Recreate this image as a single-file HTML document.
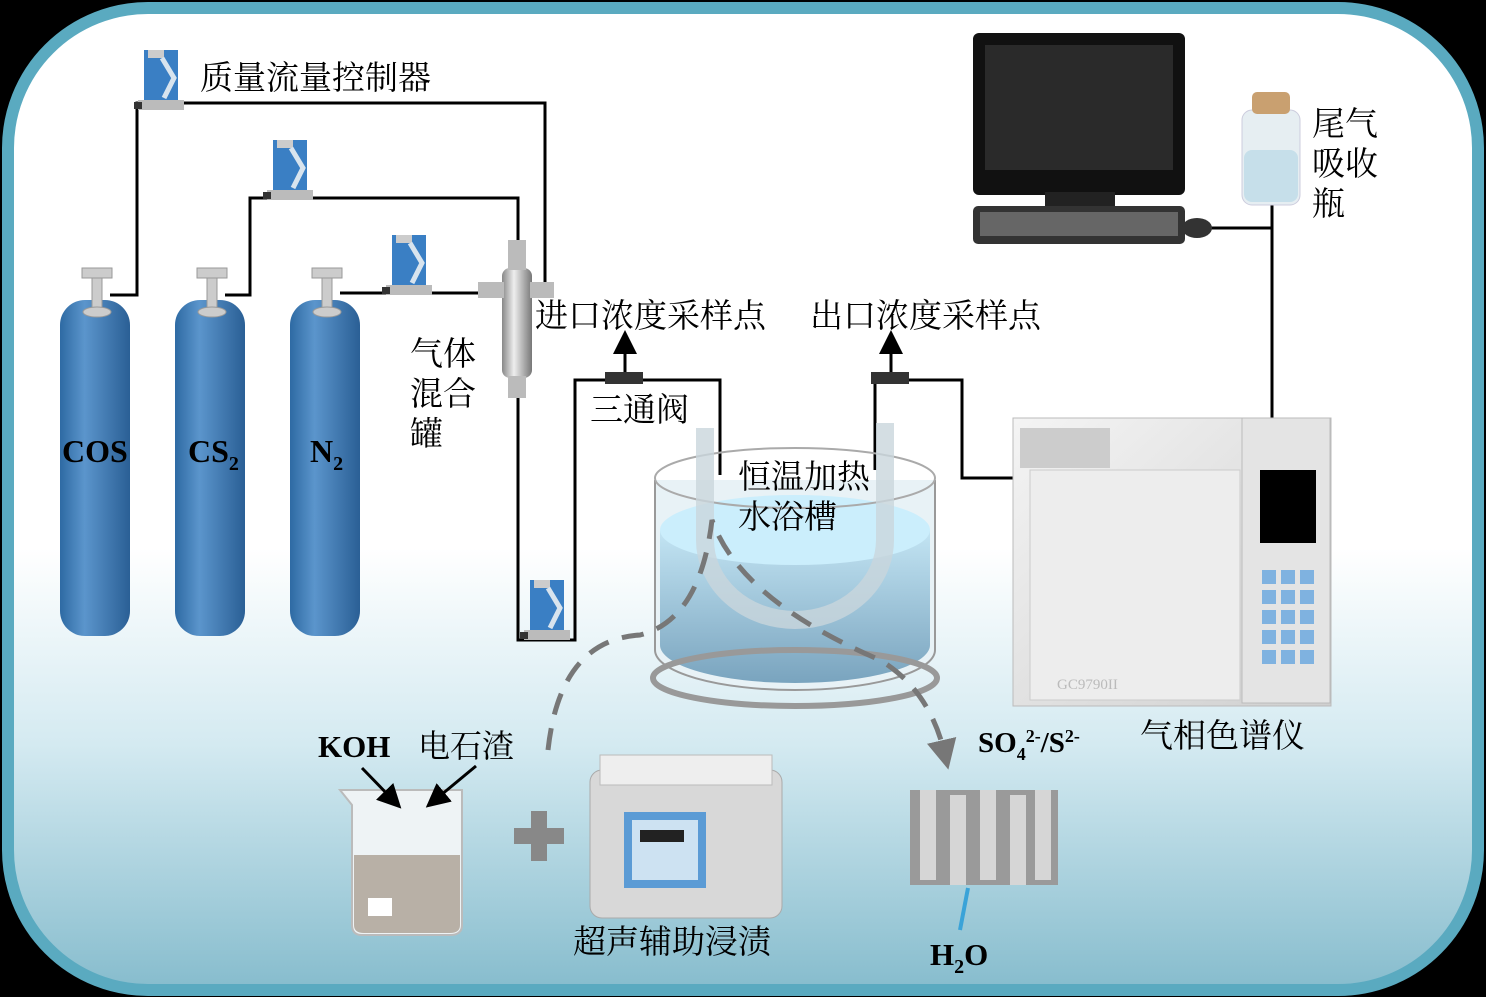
<!DOCTYPE html>
<html><head><meta charset="utf-8"><style>
html,body{margin:0;padding:0;background:#000;}
svg{display:block}
text{font-family:"Liberation Serif","Noto Serif CJK SC",serif;fill:#000}
</style></head><body>
<svg width="1486" height="997" viewBox="0 0 1486 997" xmlns="http://www.w3.org/2000/svg">
<defs>
<linearGradient id="bg" x1="0" y1="0" x2="0" y2="1">
<stop offset="0" stop-color="#fff"/><stop offset="0.55" stop-color="#fff"/><stop offset="0.75" stop-color="#d4eaf1"/><stop offset="1" stop-color="#86bccd"/></linearGradient>
<linearGradient id="cyl" x1="0" y1="0" x2="1" y2="0">
<stop offset="0" stop-color="#2e6aa3"/><stop offset="0.35" stop-color="#5b95cc"/><stop offset="1" stop-color="#2a5f95"/></linearGradient>
<linearGradient id="steel" x1="0" y1="0" x2="1" y2="0">
<stop offset="0" stop-color="#888"/><stop offset="0.4" stop-color="#eee"/><stop offset="1" stop-color="#777"/></linearGradient>
<linearGradient id="water" x1="0" y1="0" x2="0" y2="1">
<stop offset="0" stop-color="#bfe3f3"/><stop offset="1" stop-color="#6d9bb8"/></linearGradient>
<linearGradient id="gc" x1="0" y1="0" x2="1" y2="1">
<stop offset="0" stop-color="#f4f4f4"/><stop offset="1" stop-color="#cfcfcf"/></linearGradient>
<g id="mfc"><rect x="0" y="0" width="34" height="52" fill="#3a7fc4"/><rect x="4" y="0" width="16" height="8" fill="#ccc"/><path d="M18 8 L30 28 L20 48" stroke="#d8e4ee" stroke-width="5" fill="none"/><rect x="-6" y="50" width="46" height="10" fill="#bbb"/><rect x="-10" y="52" width="8" height="7" fill="#333"/></g>
<marker id="ah" markerWidth="8" markerHeight="8" refX="4" refY="4" orient="auto"><path d="M0 0 L8 4 L0 8 z" fill="#000"/></marker>
<marker id="ag" markerWidth="6" markerHeight="6" refX="3" refY="3" orient="auto"><path d="M0 0 L6 3 L0 6 z" fill="#777"/></marker>
</defs>
<rect x="8" y="8" width="1470" height="982" rx="140" fill="url(#bg)" stroke="#5aaac0" stroke-width="12"/>

<g>
<rect x="60" y="300" width="70" height="336" rx="25" fill="url(#cyl)"/>
<rect x="175" y="300" width="70" height="336" rx="25" fill="url(#cyl)"/>
<rect x="290" y="300" width="70" height="336" rx="25" fill="url(#cyl)"/>
<g fill="#ccc" stroke="#999"><rect x="82" y="268" width="30" height="10"/><rect x="92" y="278" width="10" height="34"/><ellipse cx="97" cy="312" rx="14" ry="5"/>
<rect x="197" y="268" width="30" height="10"/><rect x="207" y="278" width="10" height="34"/><ellipse cx="212" cy="312" rx="14" ry="5"/>
<rect x="312" y="268" width="30" height="10"/><rect x="322" y="278" width="10" height="34"/><ellipse cx="327" cy="312" rx="14" ry="5"/></g>
</g>
<text x="62" y="462" font-size="32" font-weight="bold">COS</text>
<text x="188" y="462" font-size="32" font-weight="bold">CS<tspan font-size="20" dy="8">2</tspan></text>
<text x="310" y="462" font-size="32" font-weight="bold">N<tspan font-size="20" dy="8">2</tspan></text>

<g stroke="#000" stroke-width="3" fill="none">
<path d="M110 295 H137 V103 H545 V285"/>
<path d="M225 295 H250 V198 H518 V245"/>
<path d="M340 293 H500"/>
<path d="M518 395 V640 H575 V380 H720 V475"/>
<path d="M875 470 V380 H962 V478 H1022"/>
<path d="M1210 228 H1272 V420"/>
<path d="M1272 200 V228"/>
</g>
<g stroke="#000" stroke-width="3"><line x1="625" y1="372" x2="625" y2="342" marker-end="url(#ah)"/><line x1="891" y1="372" x2="891" y2="342" marker-end="url(#ah)"/></g>
<rect x="605" y="372" width="38" height="12" fill="#333"/><rect x="871" y="372" width="38" height="12" fill="#333"/>

<use href="#mfc" x="144" y="50"/>
<use href="#mfc" x="273" y="140"/>
<use href="#mfc" x="392" y="235"/>
<use href="#mfc" x="530" y="580"/>

<rect x="502" y="268" width="30" height="110" rx="8" fill="url(#steel)"/>
<rect x="508" y="240" width="18" height="30" fill="#bbb"/><rect x="508" y="376" width="18" height="22" fill="#bbb"/>
<rect x="478" y="282" width="26" height="16" fill="#bbb"/><rect x="530" y="282" width="24" height="16" fill="#bbb"/>

<g font-size="33">
<text x="200" y="89">质量流量控制器</text>
<text x="535" y="327">进口浓度采样点</text>
<text x="810" y="327">出口浓度采样点</text>
<text x="410" y="365">气体</text>
<text x="410" y="405">混合</text>
<text x="410" y="445">罐</text>
<text x="590" y="421">三通阀</text>
</g>

<path d="M655 480 V650 A140 40 0 0 0 935 650 V480" fill="#e8f2f6" stroke="#999" stroke-width="2"/>
<path d="M660 530 V645 A135 38 0 0 0 930 645 V530 Z" fill="url(#water)" opacity="0.9"/>
<ellipse cx="795" cy="530" rx="135" ry="35" fill="#cbeefc"/>
<ellipse cx="795" cy="478" rx="140" ry="30" fill="none" stroke="#aaa" stroke-width="2"/>
<ellipse cx="795" cy="678" rx="142" ry="28" fill="none" stroke="#999" stroke-width="6"/>
<path d="M705 428 V540 A90 80 0 0 0 885 540 V423" fill="none" stroke="#c9d6dc" stroke-width="18" opacity="0.8"/>
<text x="738" y="488" font-size="33">恒温加热</text>
<text x="738" y="528" font-size="33">水浴槽</text>

<path d="M548 750 Q560 640 640 635 Q700 620 712 520 Q740 600 880 660 Q930 690 945 755" fill="none" stroke="#777" stroke-width="5" stroke-dasharray="22 14" marker-end="url(#ag)"/>

<rect x="973" y="33" width="212" height="162" rx="6" fill="#111"/>
<rect x="985" y="45" width="188" height="125" fill="#2a2a2a"/>
<rect x="1045" y="192" width="70" height="14" fill="#222"/>
<rect x="973" y="206" width="212" height="38" rx="5" fill="#333"/>
<rect x="980" y="212" width="198" height="24" fill="#666"/>
<ellipse cx="1197" cy="228" rx="15" ry="10" fill="#333"/>

<rect x="1242" y="110" width="58" height="95" rx="10" fill="#e6eef2" stroke="#ccd" />
<rect x="1244" y="150" width="54" height="52" rx="8" fill="#c6dfea"/>
<rect x="1252" y="92" width="38" height="22" rx="5" fill="#c9a070"/>
<g font-size="33">
<text x="1312" y="135">尾气</text>
<text x="1312" y="175">吸收</text>
<text x="1312" y="215">瓶</text>
</g>

<rect x="1013" y="418" width="318" height="288" fill="url(#gc)" stroke="#bbb"/>
<rect x="1020" y="428" width="90" height="40" fill="#ccc"/>
<rect x="1030" y="470" width="210" height="230" fill="#ededed" stroke="#ccc"/>
<rect x="1242" y="418" width="88" height="285" fill="#e4e4e4" stroke="#bbb"/>
<rect x="1260" y="470" width="56" height="73" fill="#000"/>
<g fill="#7fb2e0">
<rect x="1262" y="570" width="14" height="14"/><rect x="1281" y="570" width="14" height="14"/><rect x="1300" y="570" width="14" height="14"/>
<rect x="1262" y="590" width="14" height="14"/><rect x="1281" y="590" width="14" height="14"/><rect x="1300" y="590" width="14" height="14"/>
<rect x="1262" y="610" width="14" height="14"/><rect x="1281" y="610" width="14" height="14"/><rect x="1300" y="610" width="14" height="14"/>
<rect x="1262" y="630" width="14" height="14"/><rect x="1281" y="630" width="14" height="14"/><rect x="1300" y="630" width="14" height="14"/>
<rect x="1262" y="650" width="14" height="14"/><rect x="1281" y="650" width="14" height="14"/><rect x="1300" y="650" width="14" height="14"/></g>
<text x="1057" y="689" font-size="15" style="fill:#bbb">GC9790II</text>
<text x="1140" y="747" font-size="33">气相色谱仪</text>

<path d="M340 790 H462 V925 Q462 935 450 935 H362 Q352 935 352 925 V805 Z" fill="#eef3f5" stroke="#bbb" stroke-width="2"/>
<path d="M354 855 H460 V925 Q460 933 450 933 H364 Q354 933 354 925 Z" fill="#b8b0a6"/>
<rect x="368" y="898" width="24" height="18" fill="#fff"/>
<text x="318" y="757" font-size="31" font-weight="bold">KOH</text>
<text x="418" y="757" font-size="32">电石渣</text>
<g stroke="#000" stroke-width="3"><line x1="362" y1="768" x2="393" y2="800" marker-end="url(#ah)"/><line x1="476" y1="766" x2="435" y2="800" marker-end="url(#ah)"/></g>

<rect x="514" y="828" width="50" height="16" fill="#888"/><rect x="531" y="811" width="16" height="50" fill="#888"/>

<rect x="590" y="770" width="192" height="148" rx="12" fill="#d8d8d8" stroke="#aaa"/>
<rect x="600" y="755" width="172" height="30" fill="#eee" stroke="#bbb"/>
<rect x="624" y="812" width="82" height="76" fill="#5b9bd5"/>
<rect x="632" y="820" width="66" height="60" fill="#cde2f2"/>
<rect x="640" y="830" width="44" height="12" fill="#222"/>
<text x="573" y="953" font-size="33">超声辅助浸渍</text>

<rect x="910" y="790" width="148" height="95" fill="#9a9a9a"/>
<g fill="#d6d6d6"><rect x="920" y="790" width="16" height="90"/><rect x="950" y="795" width="16" height="90"/><rect x="980" y="790" width="16" height="90"/><rect x="1010" y="795" width="16" height="90"/><rect x="1035" y="790" width="16" height="90"/></g>
<g stroke="#3aa3d8" stroke-width="4"><line x1="968" y1="888" x2="960" y2="930"/></g>
<text x="978" y="752" font-size="29" font-weight="bold">SO<tspan font-size="18" dy="8">4</tspan><tspan font-size="18" dy="-18">2-</tspan><tspan font-size="29" dy="10">/S</tspan><tspan font-size="18" dy="-10">2-</tspan></text>
<text x="930" y="965" font-size="31" font-weight="bold">H<tspan font-size="20" dy="8">2</tspan><tspan dy="-8">O</tspan></text>
</svg>
</body></html>
